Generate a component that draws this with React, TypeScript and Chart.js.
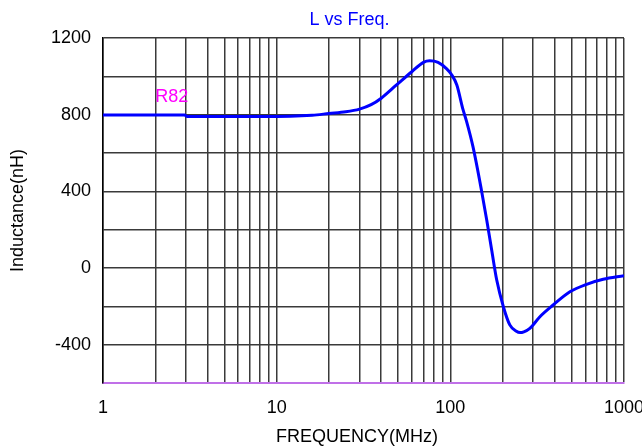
import { useEffect, useRef } from "react"
import { Chart, registerables } from "chart.js"

Chart.register(...registerables)

// frequency (MHz) and inductance (nH)
const freqMHz = [
  1, 2, 2.95, 3.05, 8, 12, 16, 20, 25, 30, 35, 40, 49, 60, 70, 76, 85, 95, 102, 109, 118,
  124, 135, 151, 162, 173, 185, 202, 220, 240, 252, 265, 287, 328, 391, 488, 609, 759, 1000,
]
const inductanceNH = [
  798, 798, 798, 791, 791, 792, 797, 806, 815, 829, 852, 886, 955, 1024, 1073, 1081, 1073,
  1040, 1007, 955, 830, 765, 633, 407, 250, 94, -63, -202, -297, -330, -337, -333, -315,
  -254, -193, -124, -85, -59, -40,
]

const xTickValues = [
  1, 2, 3, 4, 5, 6, 7, 8, 9, 10, 20, 30, 40, 50, 60, 70, 80, 90, 100, 200, 300, 400, 500,
  600, 700, 800, 900, 1000,
]
const xLabelValues = [1, 10, 100, 1000]
const yLabelValues = [1200, 800, 400, 0, -400]

const partName = "R82"
const partLabelAt = { freq: 2, value: 892 }
const chartTitle = "L vs Freq."
const xAxisTitle = "FREQUENCY(MHz)"

const FONT = "'Liberation Sans', Arial, sans-serif"
const GRID = "#3a3a3a"

const overlayPlugin = {
  id: "overlay",
  afterDraw(chart: Chart) {
    const { ctx, scales } = chart
    ctx.save()
    ctx.font = `18px ${FONT}`
    ctx.textBaseline = "middle"
    ctx.fillStyle = "#ff00ff"
    ctx.textAlign = "left"
    ctx.fillText(
      partName,
      scales.x.getPixelForValue(partLabelAt.freq),
      scales.y.getPixelForValue(partLabelAt.value)
    )
    ctx.textAlign = "center"
    ctx.fillStyle = "#0000ff"
    ctx.fillText(chartTitle, 349.5, 20)
    ctx.fillStyle = "#000"
    ctx.fillText(xAxisTitle, 357, 437)
    ctx.restore()
  },
}

export default function App() {
  const canvasRef = useRef<HTMLCanvasElement>(null)
  const chartInstance = useRef<Chart | null>(null)

  useEffect(() => {
    if (!canvasRef.current) return
    if (chartInstance.current) chartInstance.current.destroy()
    const ctx = canvasRef.current.getContext("2d")
    if (!ctx) return

    chartInstance.current = new Chart(ctx, {
      type: "line",
      data: {
        datasets: [
          {
            data: freqMHz.map((f, i) => ({ x: f, y: inductanceNH[i] })),
            borderColor: "#0000ff",
            borderWidth: 3,
            pointRadius: 0,
            cubicInterpolationMode: "monotone",
          },
        ],
      },
      options: {
        animation: false,
        responsive: true,
        maintainAspectRatio: false,
        layout: { padding: { top: 38, right: 0, left: 0, bottom: 0 } },
        plugins: { legend: { display: false }, tooltip: { enabled: false } },
        scales: {
          x: {
            type: "logarithmic",
            min: 1,
            max: 1000,
            afterBuildTicks: (scale: any) => {
              scale.ticks = xTickValues.map((v) => ({ value: v }))
            },
            afterFit: (scale: any) => {
              scale.height = 65
              scale.paddingLeft = 0
              scale.paddingRight = 18
            },
            ticks: {
              autoSkip: false,
              maxRotation: 0,
              padding: 14,
              color: "#000",
              font: { family: FONT, size: 18 },
              callback: (v: any) => (xLabelValues.includes(Number(v)) ? String(v) : ""),
            },
            grid: { color: GRID, lineWidth: 1.5, drawTicks: false },
            border: { color: "#c070e8", width: 2 },
          },
          y: {
            min: -600,
            max: 1200,
            afterFit: (scale: any) => {
              scale.width = 103
            },
            ticks: {
              stepSize: 200,
              padding: 12,
              color: "#000",
              font: { family: FONT, size: 18 },
              callback: (v: any) => (yLabelValues.includes(Number(v)) ? String(v) : ""),
            },
            grid: { color: GRID, lineWidth: 1.5, drawTicks: false },
            border: { color: "#000", width: 1.5 },
            title: {
              display: true,
              text: "Inductance(nH)",
              color: "#000",
              font: { family: FONT, size: 18 },
              padding: { top: 7, bottom: 0 },
            },
          },
        },
      },
      plugins: [overlayPlugin],
    })

    return () => {
      if (chartInstance.current) {
        chartInstance.current.destroy()
        chartInstance.current = null
      }
    }
  }, [])

  return (
    <div style={{ position: "absolute", left: 0, top: 0, width: 642, height: 448, background: "#fff" }}>
      <canvas ref={canvasRef} />
    </div>
  )
}
